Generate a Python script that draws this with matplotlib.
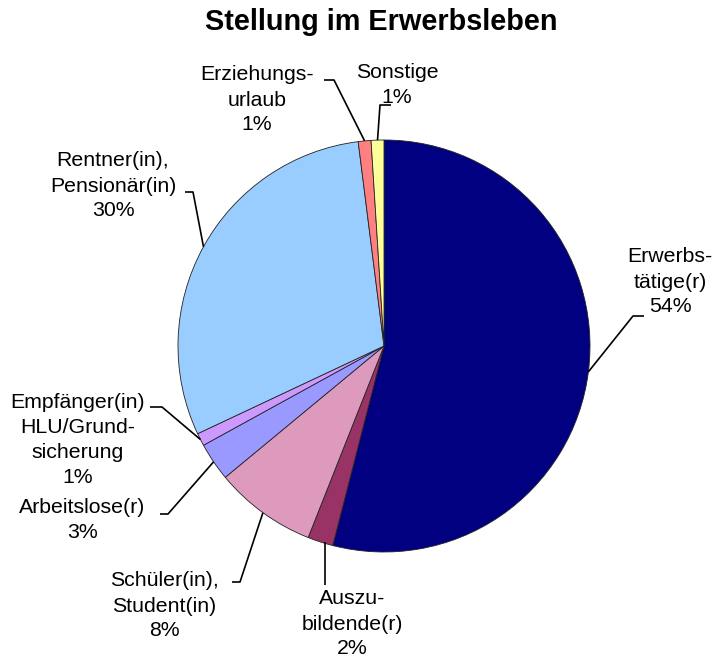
import numpy as np
import matplotlib.pyplot as plt

plt.rcParams['font.family'] = ['Liberation Sans', 'DejaVu Sans']

# shares in percent, clockwise from 12 o'clock
labels = ["Erwerbs-\ntätige(r)", "Auszu-\nbildende(r)", "Schüler(in),\nStudent(in)",
          "Arbeitslose(r)", "Empfänger(in)\nHLU/Grund-\nsicherung", "Rentner(in),\nPensionär(in)",
          "Erziehungs-\nurlaub", "Sonstige"]
values = [54, 2, 8, 3, 1, 30, 1, 1]
colors = ["#000080", "#993366", "#DD9ABD", "#9999FF", "#CC99FF", "#99CCFF", "#FF8080", "#FFFF99"]

W, H = 718, 658
fig = plt.figure(figsize=(W / 100, H / 100), dpi=100)
ax = fig.add_axes([0, 0, 1, 1])

cx, cy, r = 384, H - 346, 206
wedges, _ = ax.pie(values, colors=colors, startangle=90, counterclock=False,
                   center=(cx, cy), radius=r, frame=True,
                   wedgeprops=dict(edgecolor='#222222', linewidth=0.6))
ax.set_xlim(0, W)
ax.set_ylim(0, H)
ax.set_aspect('equal')
ax.axis('off')

# label block centre, leader elbow and leader end (px, y from top)
layout = [
    dict(text=(670, 282), elbow=(633, 316), end=(644, 316)),
    dict(text=(352, 624), elbow=None, end=(325, 585)),
    dict(text=(164, 606), elbow=(240, 582), end=(232, 582)),
    dict(text=(82, 520), elbow=(168, 514), end=(160, 514)),
    dict(text=(78, 440), elbow=(162, 407), end=(150, 407)),
    dict(text=(113, 186), elbow=(193, 192), end=(185, 192)),
    dict(text=(257, 100), elbow=(334, 80), end=(324, 80)),
    dict(text=(397, 85), elbow=(380, 105), end=(391, 105)),
]

for w, lab, val, lay in zip(wedges, labels, values, layout):
    mid = np.deg2rad((w.theta1 + w.theta2) / 2)
    xs = [cx + r * np.cos(mid)]
    ys = [cy + r * np.sin(mid)]
    if lay['elbow'] is not None:
        xs.append(lay['elbow'][0])
        ys.append(H - lay['elbow'][1])
    else:
        xs[0] = lay['end'][0]
    xs.append(lay['end'][0])
    ys.append(H - lay['end'][1])
    ax.plot(xs, ys, color='black', linewidth=1.2, solid_capstyle='butt')
    ax.text(lay['text'][0], H - lay['text'][1], f"{lab}\n{val}%", ha='center', va='center',
            fontsize=15.3, linespacing=1.4)

ax.text(381, H - 22, "Stellung im Erwerbsleben", ha='center', va='center',
        fontsize=20.8, fontweight='bold')

fig.savefig("out.png", dpi=100, facecolor='white')
